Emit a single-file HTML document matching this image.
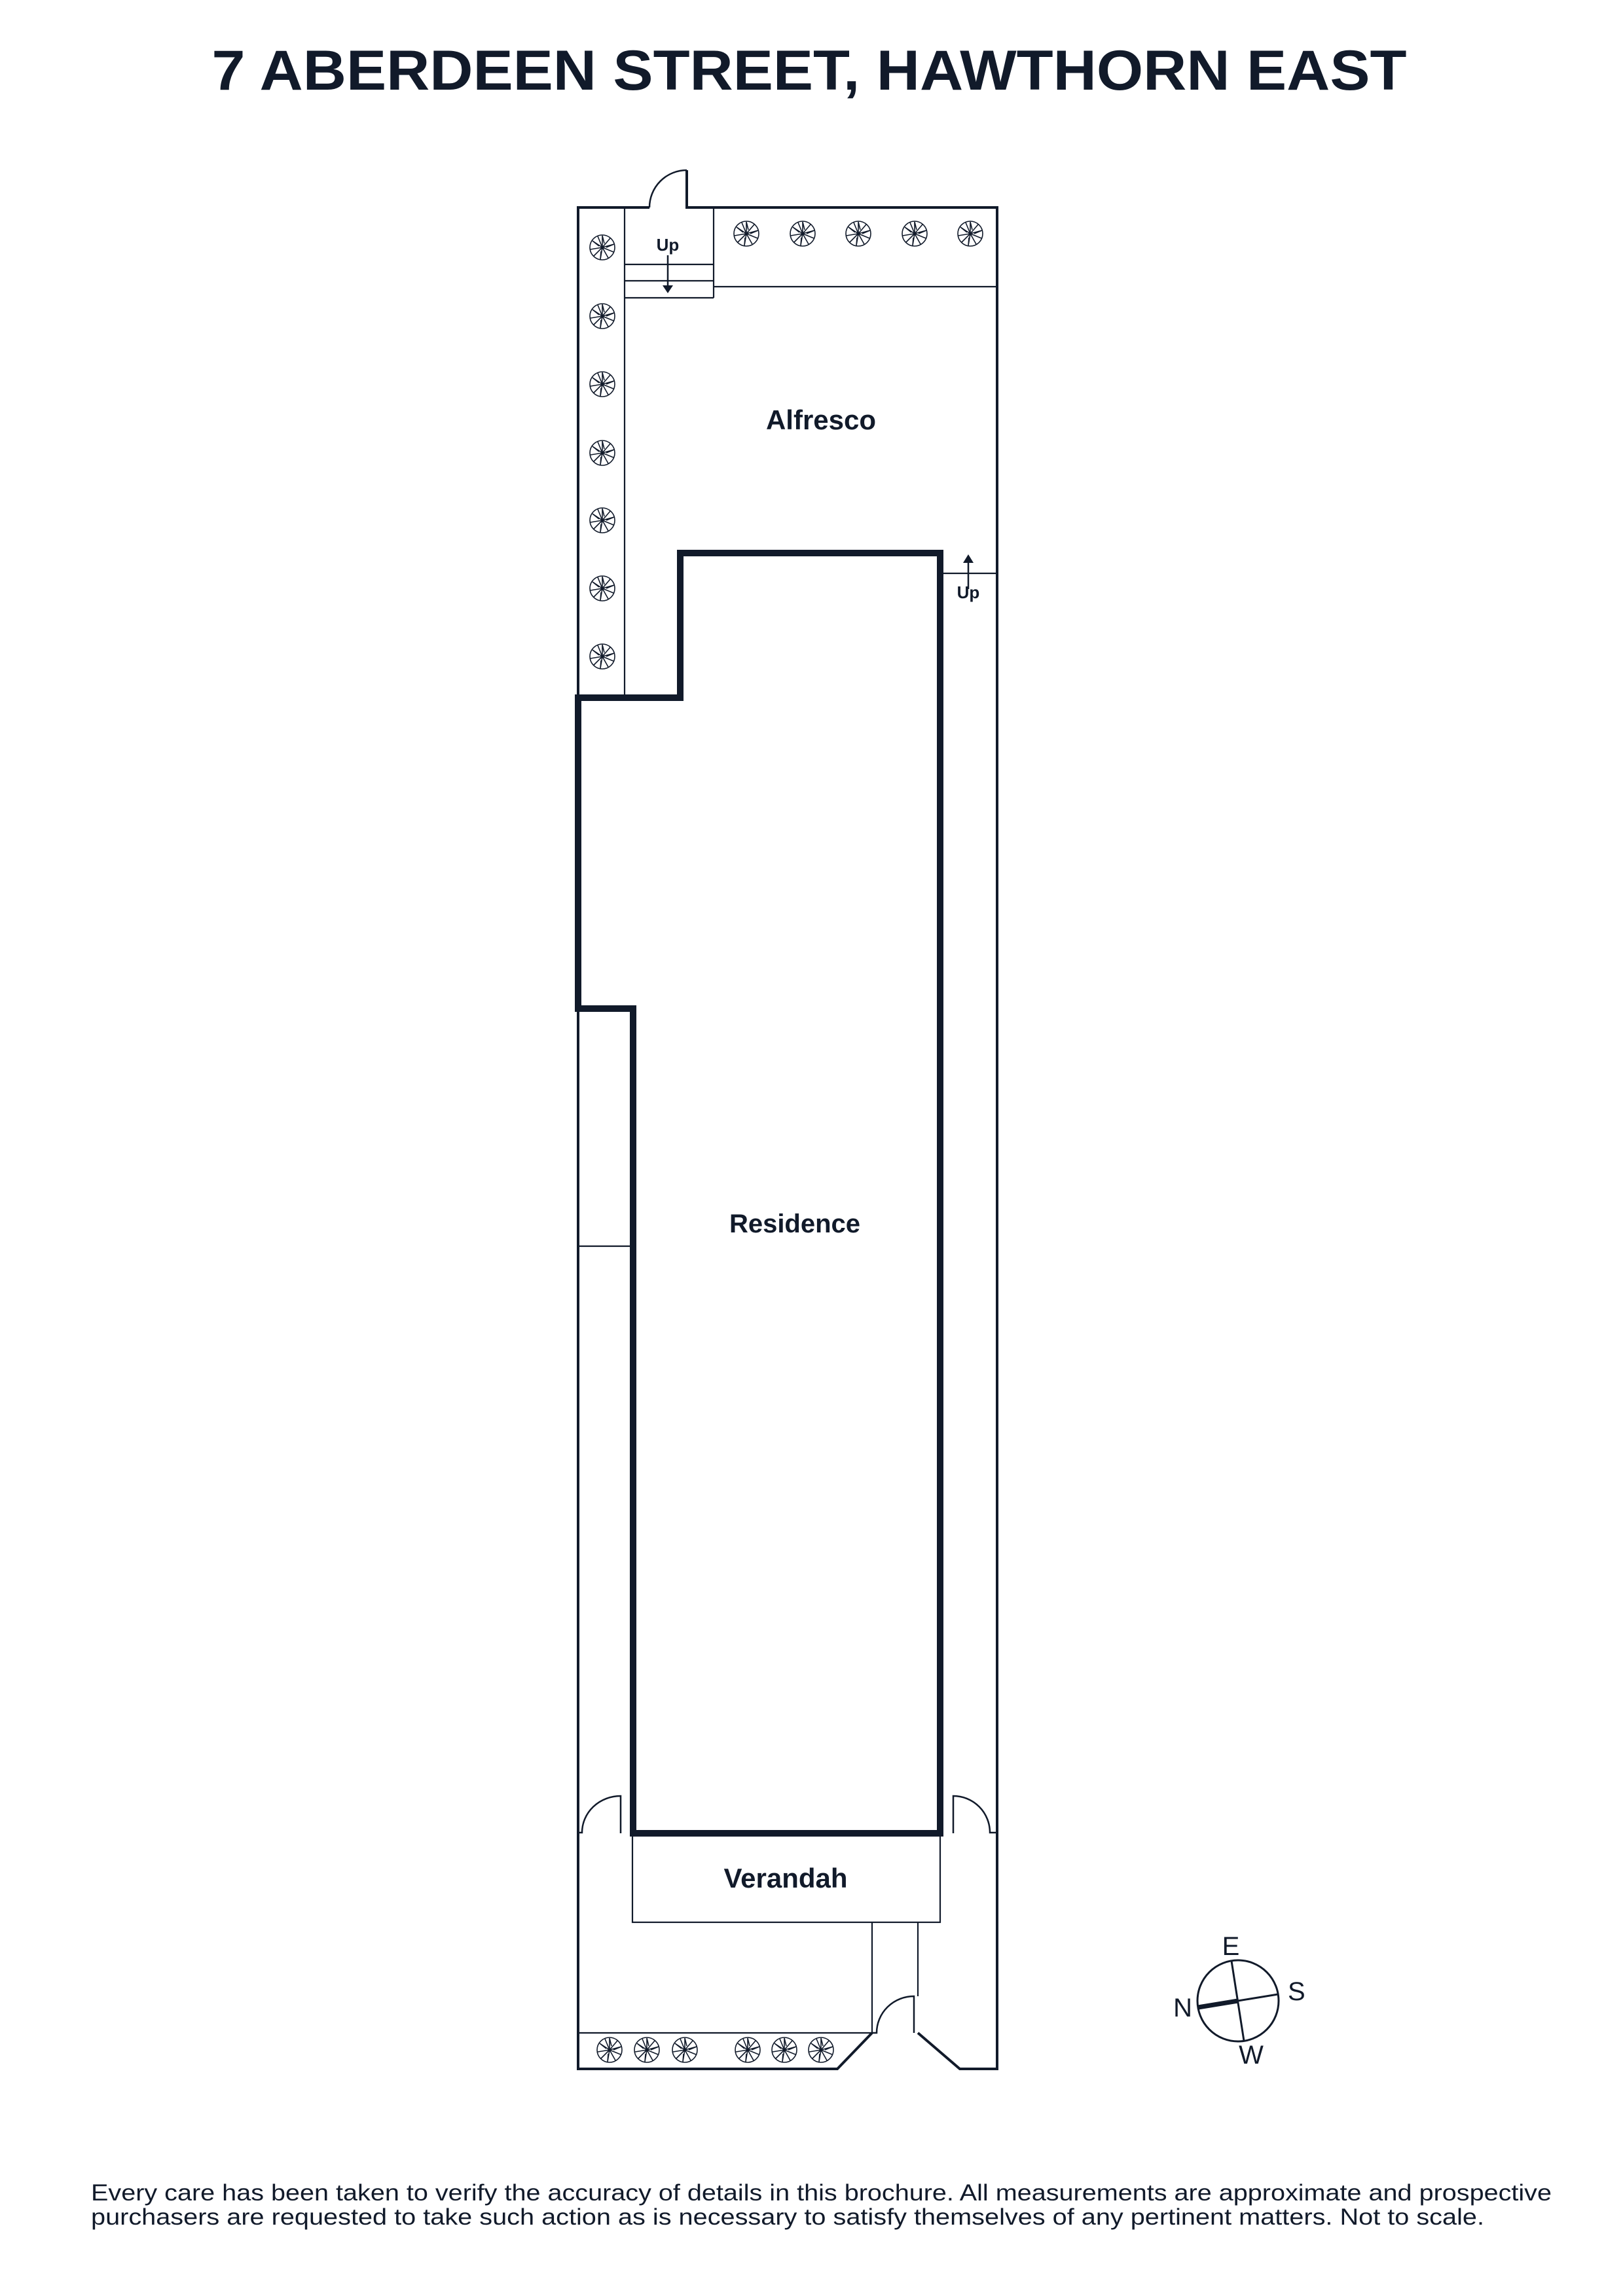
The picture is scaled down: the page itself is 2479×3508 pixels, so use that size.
<!DOCTYPE html>
<html><head><meta charset="utf-8"><style>html,body{margin:0;padding:0;background:#fff}svg{display:block}</style></head>
<body>
<svg width="2479" height="3508" viewBox="0 0 2479 3508" xmlns="http://www.w3.org/2000/svg">
<defs>
<g id="t" fill="none" stroke="#111a2a" stroke-width="1.6">
<circle r="19"/>
<path d="M0 0L0-18M0 0L12-14M0 0L18-5M0 0L17 7M0 0L9 16M0 0L-3 18M0 0L-13 13M0 0L-18 3M0 0L-15-10M0 0L-7-17M0-18L3-6M18-5L6 0M-3 18L-2 6M-15-10L-5-2"/>
</g>
</defs>
<rect width="2479" height="3508" fill="#fff"/>
<text x="1236" y="137" text-anchor="middle" font-family="Liberation Sans, sans-serif" font-weight="bold" font-size="86" fill="#111a2a" textLength="1825" lengthAdjust="spacingAndGlyphs">7 ABERDEEN STREET, HAWTHORN EAST</text>

<g fill="none" stroke="#111a2a">
<path d="M992 317H883V1066M883 1541V3161H1279L1332 3106M1402 3106L1466 3161H1523V317H1049V260" stroke-width="4"/>
<path d="M1049 260A57 57 0 0 0 992 317" stroke-width="2.5"/>
<path d="M954 317V1066M954 404H1090M1090 317V455M954 429H1090M954 455H1090M1090 438H1523M1436 876H1523M883 1904H967" stroke-width="2.2"/>
<path d="M1039 845H1436V2801H967V1541H883V1066H1039Z" stroke-width="10"/>
<rect x="966" y="2805" width="470" height="132" stroke-width="2.2"/>
<path d="M1332 2937V3106H883M1402 2937V3050" stroke-width="2.2"/>
<path d="M948 2801V2744A59 56 0 0 0 889 2800H883" stroke-width="2.5"/>
<path d="M1456 2801V2744A56 56 0 0 1 1512 2800H1523" stroke-width="2.5"/>
<path d="M1396 3106V3050A57 56 0 0 0 1339 3106H1332" stroke-width="2.5"/>
<path d="M1020 390V438M1479 900V858" stroke-width="2.5"/>
</g>
<path d="M1012 436H1028L1020 448Z M1471 860H1487L1479 847Z" fill="#111a2a"/>
<g font-family="Liberation Sans, sans-serif" font-weight="bold" fill="#111a2a" text-anchor="middle">
<text x="1020" y="383" font-size="26">Up</text>
<text x="1479" y="914" font-size="26">Up</text>
<text x="1254" y="656" font-size="42">Alfresco</text>
<text x="1214" y="1883" font-size="40">Residence</text>
<text x="1200" y="2884" font-size="42">Verandah</text>
</g>
<use href="#t" x="1140" y="357"/><use href="#t" x="1226" y="357"/><use href="#t" x="1311" y="357"/><use href="#t" x="1397" y="357"/><use href="#t" x="1482" y="357"/>
<use href="#t" x="920" y="378"/><use href="#t" x="920" y="483"/><use href="#t" x="920" y="587"/><use href="#t" x="920" y="692"/><use href="#t" x="920" y="795"/><use href="#t" x="920" y="899"/><use href="#t" x="920" y="1003"/>
<use href="#t" x="931" y="3132"/><use href="#t" x="988" y="3132"/><use href="#t" x="1046" y="3132"/><use href="#t" x="1142" y="3132"/><use href="#t" x="1198" y="3132"/><use href="#t" x="1254" y="3132"/>
<g fill="none" stroke="#111a2a">
<circle cx="1891" cy="3057" r="62" stroke-width="3"/>
<path d="M1881 2996L1900 3118M1891 3057L1952 3047" stroke-width="3"/>
<path d="M1830 3067L1891 3057" stroke-width="7"/>
</g>
<g font-family="Liberation Sans, sans-serif" font-size="40" fill="#111a2a">
<text x="1880" y="2987" text-anchor="middle">E</text>
<text x="1967" y="3056">S</text>
<text x="1821" y="3081" text-anchor="end">N</text>
<text x="1911" y="3153" text-anchor="middle">W</text>
</g>
<g font-family="Liberation Sans, sans-serif" font-size="35" fill="#111a2a">
<text x="139" y="3362" textLength="2231" lengthAdjust="spacingAndGlyphs">Every care has been taken to verify the accuracy of details in this brochure. All measurements are approximate and prospective</text>
<text x="139" y="3399" textLength="2128" lengthAdjust="spacingAndGlyphs">purchasers are requested to take such action as is necessary to satisfy themselves of any pertinent matters. Not to scale.</text>
</g>
</svg>
</body></html>
